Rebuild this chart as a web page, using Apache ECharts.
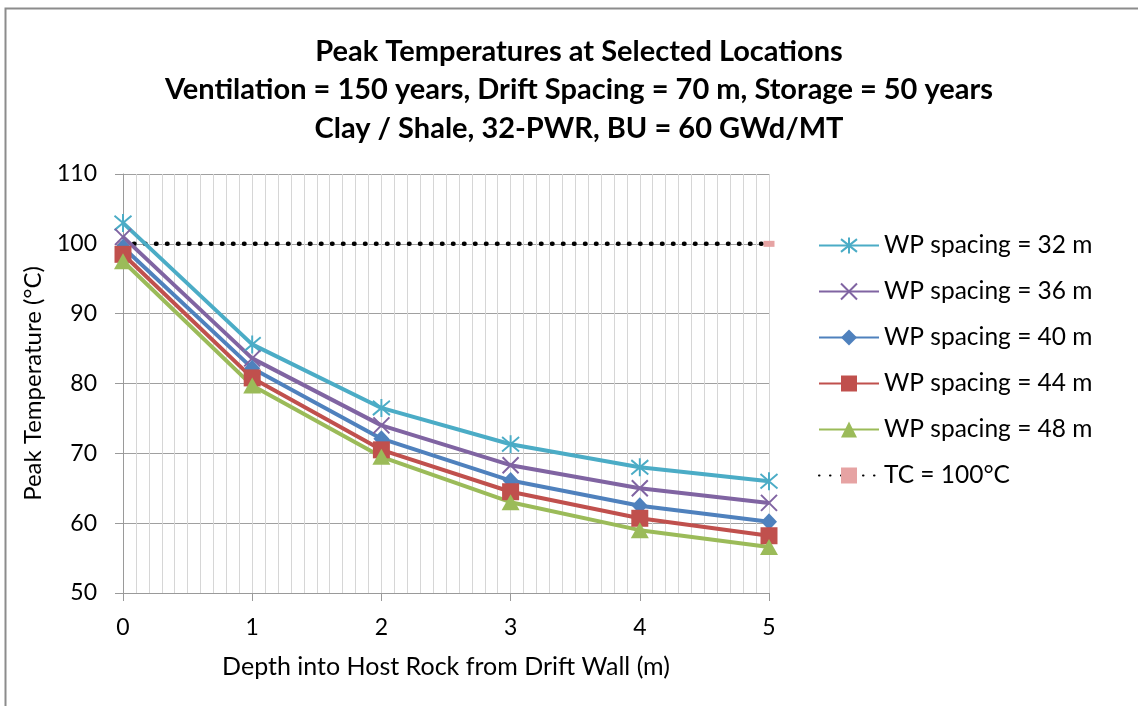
<!DOCTYPE html>
<html><head><meta charset="utf-8">
<script src="https://cdn.jsdelivr.net/npm/echarts@6/dist/echarts.min.js"></script>
<style>html,body{margin:0;padding:0;background:#fff}#c{width:1138px;height:706px}</style>
</head><body><div id="c"></div>
<script>
const depths = [0, 1, 2, 3, 4, 5];
const wp32 = [103.0, 85.6, 76.5, 71.3, 68.0, 66.0];
const wp36 = [101.0, 83.6, 74.0, 68.3, 65.0, 62.9];
const wp40 = [99.5, 82.2, 72.1, 66.1, 62.5, 60.2];
const wp44 = [98.5, 80.8, 70.5, 64.5, 60.7, 58.2];
const wp48 = [97.5, 79.7, 69.5, 63.0, 59.0, 56.6];
const tcX = [0, 5];
const tcY = [100, 100];
const seriesNames = ['WP spacing = 32 m','WP spacing = 36 m','WP spacing = 40 m','WP spacing = 44 m','WP spacing = 48 m','TC = 100°C'];
const titleLines = ['Peak Temperatures at Selected Locations','Ventilation = 150 years, Drift Spacing = 70 m, Storage = 50 years','Clay / Shale, 32-PWR, BU = 60 GWd/MT'];

const FONT = 'Lato';
const pairs = (xs, ys) => xs.map((x, i) => [x, ys[i]]);

function mk(name, data, color, symbol, size, stroke) {
  return {
    name, type: 'line', data: pairs(depths, data), z: 3,
    symbol, symbolSize: size,
    lineStyle: {color, width: 4},
    itemStyle: stroke ? {color: 'none', borderColor: color, borderWidth: 2} : {color},
    emphasis: {disabled: true}
  };
}

const chart = echarts.init(document.getElementById('c'), null, {renderer: 'canvas'});
chart.setOption({
  animation: false,
  backgroundColor: '#fff',
  graphic: [{type: 'rect', shape: {x: 5.5, y: 8.5, width: 1200, height: 800}, style: {fill: 'none', stroke: '#8c8c8c', lineWidth: 2}, z: 100}],
  title: {
    text: titleLines.join('\n'), left: 574, top: 27, textAlign: 'center',
    textStyle: {fontFamily: FONT, fontWeight: 'bold', fontSize: 29, lineHeight: 38.5, color: '#000'}
  },
  grid: {left: 123, right: 369, top: 174, bottom: 113, containLabel: false},
  xAxis: [{
    type: 'value', min: 0, max: 5, interval: 1,
    name: 'Depth into Host Rock from Drift Wall (m)', nameLocation: 'middle', nameGap: 61,
    nameTextStyle: {fontFamily: FONT, fontSize: 25, color: '#000'},
    axisLine: {show: true, onZero: false, lineStyle: {color: '#9a9a9a', width: 1}},
    axisTick: {show: true, length: 8, lineStyle: {color: '#9a9a9a'}},
    axisLabel: {fontFamily: FONT, fontSize: 23, color: '#000', margin: 23},
    splitLine: {show: true, lineStyle: {color: '#a0a0a0', width: 1}}
  }, {
    type: 'value', min: 0, max: 5, interval: 0.1, position: 'bottom',
    axisLine: {show: false}, axisTick: {show: false}, axisLabel: {show: false},
    splitLine: {show: true, lineStyle: {color: '#d6d6d6', width: 1}}, z: 0
  }],
  yAxis: {
    type: 'value', min: 50, max: 110, interval: 10,
    name: 'Peak Temperature (°C)', nameLocation: 'middle', nameGap: 78,
    nameTextStyle: {fontFamily: FONT, fontSize: 24, color: '#000'},
    axisLine: {show: true, onZero: false, lineStyle: {color: '#9a9a9a', width: 1}},
    axisTick: {show: true, length: 8, lineStyle: {color: '#9a9a9a'}},
    axisLabel: {fontFamily: FONT, fontSize: 23, color: '#000', margin: 26},
    splitLine: {show: true, lineStyle: {color: '#a0a0a0', width: 1}}
  },
  legend: {
    orient: 'vertical', left: 813, top: 228,
    itemWidth: 60, itemHeight: 20, itemGap: 21,
    textStyle: {fontFamily: FONT, fontSize: 24.5, color: '#000', lineHeight: 25},
    data: seriesNames
  },
  series: [
    mk(seriesNames[0], wp32, '#4BACC6', 'path://M10,0L10,20M2,2L18,18M2,18L18,2', [17, 18], true),
    mk(seriesNames[1], wp36, '#8064A2', 'path://M0,0L20,20M0,20L20,0', [16, 16], true),
    mk(seriesNames[2], wp40, '#4F81BD', 'diamond', [16, 17], false),
    mk(seriesNames[3], wp44, '#C0504D', 'rect', [17, 17], false),
    mk(seriesNames[4], wp48, '#9BBB59', 'triangle', [18, 16], false),
    {
      name: seriesNames[5], type: 'line', data: pairs(tcX, tcY), z: 2,
      symbol: 'rect', symbolSize: [11, 6],
      itemStyle: {color: '#E6A3A3'},
      lineStyle: {color: '#000', width: 4.5, type: [0.5, 10.5], cap: 'round'},
      emphasis: {disabled: true}
    }
  ]
});
</script></body></html>
